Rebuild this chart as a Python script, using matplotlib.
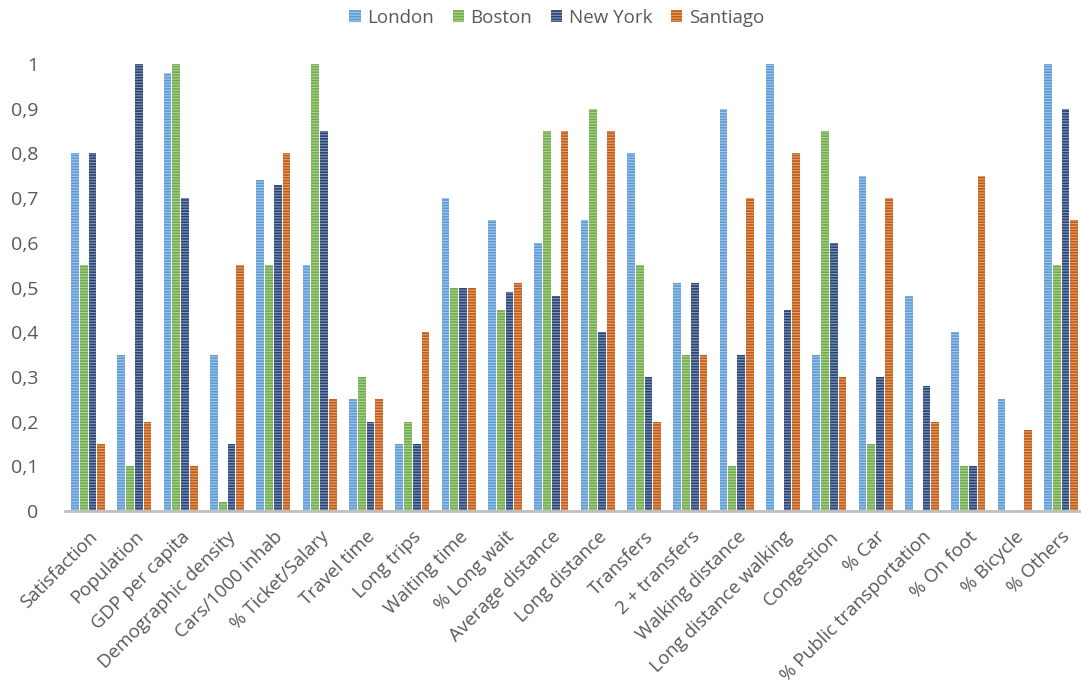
import numpy as np
import matplotlib
matplotlib.use("Agg")
import matplotlib.pyplot as plt

# ---- data ----
indicators = [
    "Satisfaction", "Population", "GDP per capita", "Demographic density",
    "Cars/1000 inhab", "% Ticket/Salary", "Travel time", "Long trips",
    "Waiting time", "% Long wait", "Average distance", "Long distance",
    "Transfers", "2 + transfers", "Walking distance", "Long distance walking",
    "Congestion", "% Car", "% Public transportation", "% On foot",
    "% Bicycle", "% Others",
]
cities = ["London", "Boston", "New York", "Santiago"]

london = [0.80, 0.35, 0.98, 0.35, 0.74, 0.55, 0.25, 0.15, 0.70, 0.65, 0.60,
          0.65, 0.80, 0.51, 0.90, 1.00, 0.35, 0.75, 0.48, 0.40, 0.25, 1.00]
boston = [0.55, 0.10, 1.00, 0.02, 0.55, 1.00, 0.30, 0.20, 0.50, 0.45, 0.85,
          0.90, 0.55, 0.35, 0.10, 0.00, 0.85, 0.15, 0.00, 0.10, 0.00, 0.55]
new_york = [0.80, 1.00, 0.70, 0.15, 0.73, 0.85, 0.20, 0.15, 0.50, 0.49, 0.48,
            0.40, 0.30, 0.51, 0.35, 0.45, 0.60, 0.30, 0.28, 0.10, 0.00, 0.90]
santiago = [0.15, 0.20, 0.10, 0.55, 0.80, 0.25, 0.25, 0.40, 0.50, 0.51, 0.85,
            0.85, 0.20, 0.35, 0.70, 0.80, 0.30, 0.70, 0.20, 0.75, 0.18, 0.65]

yticks = [0, 0.1, 0.2, 0.3, 0.4, 0.5, 0.6, 0.7, 0.8, 0.9, 1]
ytick_labels = ["0", "0,1", "0,2", "0,3", "0,4", "0,5", "0,6", "0,7", "0,8", "0,9", "1"]

colors = ["#5B9BD5", "#70AD47", "#264478", "#C55A11"]
grey = "#595959"

plt.rcParams["font.family"] = ["Open Sans", "DejaVu Sans"]
plt.rcParams["hatch.linewidth"] = 0.8

fig = plt.figure(figsize=(10.81, 6.97), dpi=100)
ax = fig.add_axes([0.06, 0.267, 0.943, 0.641])

x = np.arange(len(indicators))
step = 0.189
width = 0.168
series = [london, boston, new_york, santiago]
for i, (vals, name, c) in enumerate(zip(series, cities, colors)):
    ax.bar(x + (i - 1.5) * step, vals, width, color=c, label=name,
           edgecolor=(1, 1, 1, 0.45), linewidth=0, hatch="------",
           clip_on=False)

ax.set_xlim(-0.5, len(indicators) - 0.5)
ax.set_ylim(0, 1)
ax.set_yticks(yticks)
ax.set_yticklabels(ytick_labels, fontsize=14, color=grey)
ax.set_xticks(x)
ax.set_xticklabels(indicators, rotation=45, ha="right",
                   rotation_mode="anchor", fontsize=13.5, color=grey)
ax.tick_params(axis="both", length=0)
ax.tick_params(axis="y", pad=19)
ax.tick_params(axis="x", pad=12)

for side in ["top", "right", "left"]:
    ax.spines[side].set_visible(False)
ax.spines["bottom"].set_color("#BFBFBF")
ax.spines["bottom"].set_linewidth(2)

leg = fig.legend(loc="upper center", bbox_to_anchor=(0.515, 1.012), ncol=4,
                 frameon=False, fontsize=13.5, handlelength=0.6,
                 handleheight=0.6, handletextpad=0.35, columnspacing=1.0)
for t in leg.get_texts():
    t.set_color(grey)

fig.savefig("out.png", dpi=100)
